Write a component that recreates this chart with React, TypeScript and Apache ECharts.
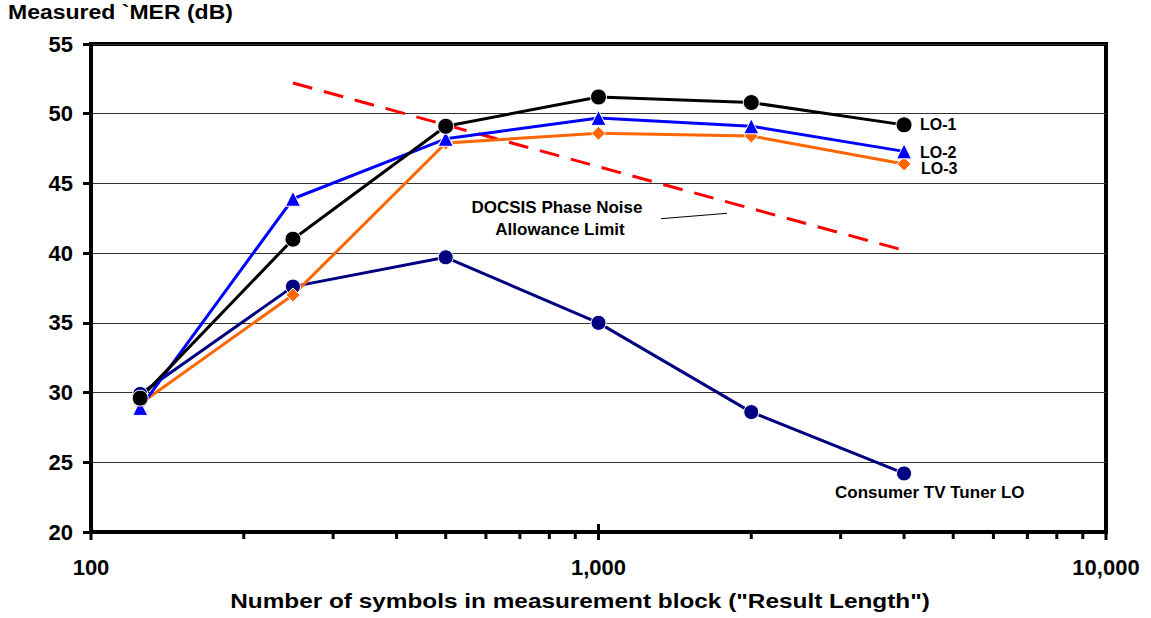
import React, { useEffect, useRef } from "react";
import * as echarts from "echarts";

// ---- data ----
const X_VALUES = [125, 250, 500, 1000, 2000, 4000];
const LO1 = [29.6, 41.0, 49.1, 51.2, 50.8, 49.2];
const LO2 = [28.9, 43.9, 48.2, 49.7, 49.1, 47.3];
const LO3 = [29.2, 37.0, 47.9, 48.6, 48.4, 46.4];
const TUNER = [29.9, 37.6, 39.7, 35.0, 28.6, 24.2];
const LIMIT_X = [250, 4000];
const LIMIT = [52.2, 40.2];

const X_MIN = 100;
const X_MAX = 10000;
const Y_MIN = 20;
const Y_MAX = 55;
const Y_STEP = 5;
const MAJOR_TICKS = [100, 1000, 10000];
const MINOR_TICKS = [200, 300, 400, 500, 600, 700, 800, 900, 2000, 3000, 4000, 5000, 6000, 7000, 8000, 9000];

const FONT = '"Liberation Sans", Arial, Helvetica, sans-serif';

export default function App() {
  const ref = useRef<HTMLDivElement>(null);

  useEffect(() => {
    const chart = echarts.init(ref.current as HTMLDivElement, null, { renderer: "svg" });

    const pair = (xs: number[], ys: number[]) => xs.map((x, i) => [x, ys[i]]);

    const lineSeries = (name: string, ys: number[], color: string, symbol: string, size: number) => ({
      type: "line",
      name,
      data: pair(X_VALUES, ys),
      symbol,
      symbolSize: size,
      showAllSymbol: true,
      lineStyle: { color, width: 3 },
      itemStyle: { color, borderColor: "#ffffff", borderWidth: 1 },
      emphasis: { disabled: true },
      silent: true,
      z: 3,
    });

    const tickSeries = (vals: number[], up: number, down: number, width: number) => ({
      type: "custom",
      silent: true,
      clip: false,
      z: 5,
      data: vals.map((v) => [v, Y_MIN]),
      encode: { x: 0, y: 1 },
      renderItem: (_params: any, api: any) => {
        const p = api.coord([api.value(0), api.value(1)]);
        return {
          type: "line",
          shape: { x1: p[0], y1: p[1] - up, x2: p[0], y2: p[1] + down },
          style: { stroke: "#000", lineWidth: width },
        };
      },
    });

    const textEl = (text: string, x: number, y: number, size: number, align: string, scaleX = 1) => ({
      type: "text",
      x,
      y,
      scaleX,
      silent: true,
      z: 10,
      style: {
        text,
        x: 0,
        y: 0,
        fill: "#000",
        font: `bold ${size}px ${FONT}`,
        textAlign: align,
        textVerticalAlign: "middle",
      },
    });

    chart.setOption({
      animation: false,
      backgroundColor: "#ffffff",
      textStyle: { fontFamily: FONT },
      grid: {
        left: 91,
        right: 45,
        top: 44,
        bottom: 86,
        show: true,
        borderColor: "#000",
        borderWidth: 4,
        backgroundColor: "transparent",
      },
      xAxis: {
        type: "log",
        logBase: 10,
        min: X_MIN,
        max: X_MAX,
        axisLine: { show: true, lineStyle: { color: "#000", width: 4 } },
        axisTick: { show: false },
        splitLine: { show: false },
        minorTick: { show: false },
        axisLabel: {
          margin: 24,
          fontSize: 22,
          fontWeight: "bold",
          color: "#000",
          fontFamily: FONT,
          formatter: (v: number) => Math.round(v).toLocaleString("en-US"),
        },
      },
      yAxis: {
        type: "value",
        min: Y_MIN,
        max: Y_MAX,
        interval: Y_STEP,
        axisLine: { show: true, lineStyle: { color: "#000", width: 4 } },
        axisTick: { show: true, inside: false, length: 8, lineStyle: { color: "#000", width: 3 } },
        splitLine: { show: true, lineStyle: { color: "#333333", width: 1 } },
        axisLabel: {
          margin: 18,
          fontSize: 22,
          fontWeight: "bold",
          color: "#000",
          fontFamily: FONT,
        },
      },
      series: [
        {
          type: "line",
          name: "DOCSIS Phase Noise Allowance Limit",
          data: pair(LIMIT_X, LIMIT),
          symbol: "none",
          lineStyle: { color: "#ff0000", width: 3, type: [20, 12] },
          emphasis: { disabled: true },
          silent: true,
          z: 2,
        },
        lineSeries("Consumer TV Tuner LO", TUNER, "#000080", "circle", 15),
        lineSeries("LO-3", LO3, "#ff6600", "diamond", 14),
        lineSeries("LO-2", LO2, "#0000ff", "triangle", 15),
        lineSeries("LO-1", LO1, "#000000", "circle", 16),
        tickSeries(MINOR_TICKS, 0, 7, 3),
        tickSeries(MAJOR_TICKS, 8, 8, 3),
      ],
      graphic: [
        textEl("Measured `MER (dB)", 8, 12, 21, "left", 1.096),
        textEl('Number of symbols in measurement block ("Result Length")', 580, 601, 21, "center", 1.16),
        textEl("DOCSIS Phase Noise", 557, 207, 17, "center"),
        textEl("Allowance Limit", 560, 229, 17, "center"),
        {
          type: "line",
          silent: true,
          z: 10,
          shape: { x1: 661, y1: 218.7, x2: 727, y2: 213.3 },
          style: { stroke: "#000", lineWidth: 1 },
        },
        textEl("LO-1", 920, 124.5, 16, "left"),
        textEl("LO-2", 920, 152, 16, "left"),
        textEl("LO-3", 921, 168.5, 16, "left"),
        textEl("Consumer TV Tuner LO", 835, 492, 17, "left"),
      ],
    });

    return () => {
      chart.dispose();
    };
  }, []);

  return (
    <div
      ref={ref}
      style={{ position: "fixed", left: 0, top: 0, width: 1151, height: 618, background: "#fff" }}
    />
  );
}
